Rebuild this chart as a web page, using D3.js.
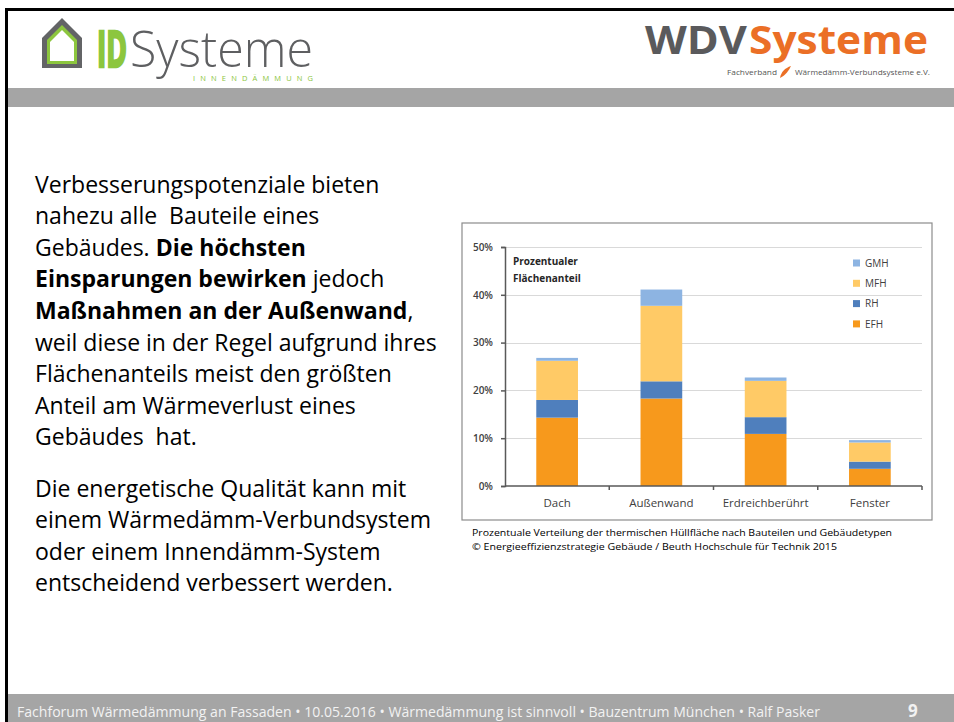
<!DOCTYPE html>
<html>
<head>
<meta charset="utf-8">
<script src="https://cdn.jsdelivr.net/npm/d3@7"></script>
<style>
  html, body { margin: 0; padding: 0; background: #fff; }
  svg { display: block; }
  text { font-family: "Open Sans", "Noto Sans", sans-serif; }
</style>
</head>
<body>
<div id="folie"></div>
<script>
// Daten aus der Grafik (Prozent)
const kategorien = ["Dach", "Außenwand", "Erdreichberührt", "Fenster"]
const efh = [14.3, 18.3, 10.9, 3.6]
const rh  = [3.7, 3.6, 3.5, 1.5]
const mfh = [8.2, 15.8, 7.6, 4.0]
const gmh = [0.6, 3.4, 0.7, 0.5]
const reihen = ["EFH", "RH", "MFH", "GMH"]
const yTicks = [0, 10, 20, 30, 40, 50]

const farben = { EFH: "#f7991c", RH: "#4f7fbd", MFH: "#ffca66", GMH: "#8db4e2" }

const W = 954, H = 722

const svg = d3.select("#folie").append("svg")
    .attr("width", W)
    .attr("height", H)

// --- Folienrahmen ---
svg.append("rect").attr("x", 8).attr("y", 88).attr("width", W - 8).attr("height", 19).attr("fill", "#a5a5a5")
svg.append("rect").attr("x", 8).attr("y", 694).attr("width", W - 8).attr("height", 28).attr("fill", "#a5a5a5")
svg.append("line").attr("x1", 5).attr("x2", W).attr("y1", 9.5).attr("y2", 9.5)
    .attr("stroke", "#000").attr("stroke-width", 3)
svg.append("line").attr("x1", 6.5).attr("x2", 6.5).attr("y1", 8).attr("y2", H)
    .attr("stroke", "#000").attr("stroke-width", 3)

// --- Logo IDSysteme ---
const logo1 = svg.append("g")
logo1.append("path").attr("d", "M42,68 L42,38 L62,18 L82,38 L82,68 Z").attr("fill", "#636466")
logo1.append("path").attr("d", "M47,64 L47,40 L62,25 L77,40 L77,64 Z").attr("fill", "#8cc63e")
logo1.append("path").attr("d", "M50,61 L50,42 L62,30 L74,42 L74,61 Z").attr("fill", "#fff")
logo1.append("text")
    .attr("transform", "translate(97,67) scale(1,1.65)")
    .attr("font-size", 30).attr("font-weight", "bold").attr("fill", "#8cc63e")
    .attr("stroke", "#8cc63e").attr("stroke-width", 1.6)
    .attr("textLength", 30).attr("lengthAdjust", "spacingAndGlyphs").text("ID")
logo1.append("text")
    .attr("transform", "translate(130,67) scale(1,1.12)")
    .attr("font-size", 44).attr("font-weight", 300).attr("fill", "#5e5f61")
    .attr("textLength", 183).attr("lengthAdjust", "spacingAndGlyphs").text("Systeme")
logo1.append("text").attr("x", 193).attr("y", 81)
    .attr("font-size", 7.5).attr("fill", "#8cc63e")
    .attr("textLength", 120).attr("lengthAdjust", "spacing").text("INNENDÄMMUNG")

// --- Logo WDVSysteme ---
const logo2 = svg.append("g")
logo2.append("text").attr("transform", "translate(645,54) scale(1,1.08)")
    .attr("font-size", 36).attr("font-weight", "bold").attr("fill", "#5a5a5c")
    .attr("textLength", 102).attr("lengthAdjust", "spacingAndGlyphs").text("WDV")
logo2.append("text").attr("transform", "translate(749,54) scale(1,1.08)")
    .attr("font-size", 36).attr("font-weight", "bold").attr("fill", "#eb6f26")
    .attr("textLength", 179).attr("lengthAdjust", "spacingAndGlyphs").text("Systeme")
logo2.append("text").attr("x", 727).attr("y", 75)
    .attr("font-size", 8).attr("fill", "#555")
    .attr("textLength", 50).attr("lengthAdjust", "spacingAndGlyphs").text("Fachverband")
logo2.append("path").attr("d", "M780,78 C781,72 785,68 791,66 C789,70 786,75 780,78 Z").attr("fill", "#eb6f26")
logo2.append("text").attr("x", 795).attr("y", 75)
    .attr("font-size", 8).attr("fill", "#555")
    .attr("textLength", 135).attr("lengthAdjust", "spacingAndGlyphs").text("Wärmedämm-Verbundsysteme e.V.")

// --- Fliesstext links ---
const absatz1 = [
    [["Verbesserungspotenziale bieten", false]],
    [["nahezu alle  Bauteile eines", false]],
    [["Gebäudes. ", false], ["Die höchsten", true]],
    [["Einsparungen bewirken", true], [" jedoch", false]],
    [["Maßnahmen an der Außenwand", true], [",", false]],
    [["weil diese in der Regel aufgrund ihres", false]],
    [["Flächenanteils meist den größten", false]],
    [["Anteil am Wärmeverlust eines", false]],
    [["Gebäudes  hat.", false]]
]
const absatz2 = [
    [["Die energetische Qualität kann mit", false]],
    [["einem Wärmedämm-Verbundsystem", false]],
    [["oder einem Innendämm-System", false]],
    [["entscheidend verbessert werden.", false]]
]

const fliess = svg.append("g").attr("fill", "#000")
function zeilen(liste, y0) {
    liste.forEach((teile, i) => {
        const t = fliess.append("text")
            .attr("class", "zeile")
            .attr("x", 35).attr("y", y0 + i * 31.6)
            .attr("xml:space", "preserve")
            .style("white-space", "pre")
        teile.forEach(p => t.append("tspan")
            .attr("font-weight", p[1] ? "bold" : "normal")
            .text(p[0]))
    })
}
zeilen(absatz1, 192.5)
zeilen(absatz2, 496.5)

// Schriftgroesse an die Zeilenbreite der Vorlage anpassen
fliess.attr("font-size", 20)
const probe = fliess.selectAll("text.zeile").filter((d, i) => i === 5).node()
const breite = probe.getComputedTextLength()
fliess.attr("font-size", 20 * 402 / breite)

// --- Diagramm ---
const rahmen = { x: 462, y: 223, w: 470, h: 297 }
svg.append("rect")
    .attr("x", rahmen.x).attr("y", rahmen.y)
    .attr("width", rahmen.w).attr("height", rahmen.h)
    .attr("fill", "#fff").attr("stroke", "#8c8c8c").attr("stroke-width", 1.2)

const x = d3.scaleBand().domain(kategorien).range([505, 922]).padding(0)
const y = d3.scaleLinear().domain([0, 50]).range([486, 247])

const daten = kategorien.map((k, i) => ({ kat: k, EFH: efh[i], RH: rh[i], MFH: mfh[i], GMH: gmh[i] }))
const stapel = d3.stack().keys(reihen)(daten)

const chart = svg.append("g")

// Gitternetz
chart.append("g").selectAll("line")
    .data(yTicks.filter(d => d > 0))
    .join("line")
    .attr("x1", 505).attr("x2", 922)
    .attr("y1", d => Math.round(y(d)) + 0.5).attr("y2", d => Math.round(y(d)) + 0.5)
    .attr("stroke", "#d9d9d9").attr("stroke-width", 1.2)

// Balken
const balkenBreite = x.bandwidth() * 0.4
chart.append("g").selectAll("g")
    .data(stapel)
    .join("g")
    .attr("fill", d => farben[d.key])
    .selectAll("rect")
    .data(d => d)
    .join("rect")
    .attr("x", d => x(d.data.kat) + (x.bandwidth() - balkenBreite) / 2)
    .attr("width", balkenBreite)
    .attr("y", d => y(d[1]))
    .attr("height", d => y(d[0]) - y(d[1]))

// Y-Achse
const yAchse = chart.append("g")
    .attr("transform", "translate(505,0)")
    .call(d3.axisLeft(y).tickValues(yTicks).tickSize(4).tickFormat(d => d + "%"))
yAchse.select(".domain").attr("stroke", "#595959").attr("stroke-width", 1.5)
yAchse.selectAll(".tick line").attr("stroke", "#595959").attr("stroke-width", 1.5)
yAchse.selectAll(".tick text")
    .attr("x", -12)
    .attr("font-family", "\"Open Sans\", sans-serif")
    .attr("font-size", 10).attr("font-weight", 600).attr("fill", "#404040")

// X-Achse
const xAchse = chart.append("g")
    .attr("transform", "translate(0,486)")
xAchse.append("line")
    .attr("x1", 505).attr("x2", 922).attr("y1", 0).attr("y2", 0)
    .attr("stroke", "#595959").attr("stroke-width", 1.5)
xAchse.selectAll("line.tick")
    .data(kategorien)
    .join("line")
    .attr("class", "tick")
    .attr("x1", d => x(d) + x.bandwidth()).attr("x2", d => x(d) + x.bandwidth())
    .attr("y1", 0).attr("y2", 4)
    .attr("stroke", "#595959").attr("stroke-width", 1.5)
xAchse.selectAll("text")
    .data(kategorien)
    .join("text")
    .attr("x", d => x(d) + x.bandwidth() / 2)
    .attr("y", 21)
    .attr("text-anchor", "middle")
    .attr("font-size", 11.5).attr("fill", "#404040")
    .text(d => d)

// Diagrammtitel
chart.append("text").attr("x", 513).attr("y", 265)
    .attr("font-size", 10).attr("font-weight", "bold").attr("fill", "#262626")
    .text("Prozentualer")
chart.append("text").attr("x", 513).attr("y", 282)
    .attr("font-size", 10).attr("font-weight", "bold").attr("fill", "#262626")
    .text("Flächenanteil")

// Legende
const legende = chart.append("g")
    .selectAll("g")
    .data(reihen.slice().reverse())
    .join("g")
    .attr("transform", (d, i) => `translate(853,${263 + i * 20.3})`)
legende.append("rect").attr("x", 0).attr("y", -3.5).attr("width", 7).attr("height", 7)
    .attr("fill", d => farben[d])
legende.append("text").attr("x", 12).attr("y", 3.8)
    .attr("font-size", 10).attr("fill", "#404040")
    .text(d => d)

// Quelle
svg.append("text").attr("x", 472).attr("y", 536)
    .attr("font-size", 9.5).attr("fill", "#000")
    .attr("textLength", 420).attr("lengthAdjust", "spacingAndGlyphs")
    .text("Prozentuale Verteilung der thermischen Hüllfläche nach Bauteilen und Gebäudetypen")
svg.append("text").attr("x", 472).attr("y", 550)
    .attr("font-size", 9.5).attr("fill", "#000")
    .attr("textLength", 365).attr("lengthAdjust", "spacingAndGlyphs")
    .text("© Energieeffizienzstrategie Gebäude / Beuth Hochschule für  Technik 2015")

// Fusszeile
svg.append("text").attr("x", 17).attr("y", 717)
    .attr("font-size", 14).attr("fill", "#f2f2f2")
    .attr("textLength", 803).attr("lengthAdjust", "spacingAndGlyphs")
    .text("Fachforum Wärmedämmung an Fassaden • 10.05.2016 • Wärmedämmung ist sinnvoll • Bauzentrum München • Ralf Pasker")
svg.append("text").attr("x", 908).attr("y", 717)
    .attr("font-size", 17).attr("font-weight", "bold").attr("fill", "#f2f2f2")
    .text("9")
</script>
</body>
</html>
